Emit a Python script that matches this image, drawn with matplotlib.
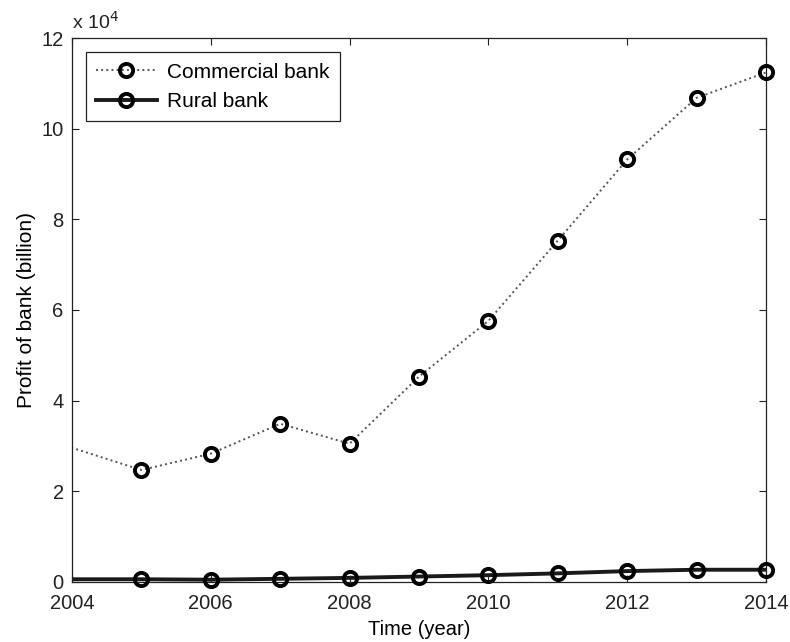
import matplotlib.pyplot as plt
from matplotlib.lines import Line2D
from matplotlib.ticker import FuncFormatter

plt.rcParams['font.family'] = ['Liberation Sans', 'DejaVu Sans']

# 2003 point lies left of the visible range; only the line enters the axes
years = [2003, 2005, 2006, 2007, 2008, 2009, 2010, 2011, 2012, 2013, 2014]
commercial = [34500, 24700, 28300, 34900, 30500, 45300, 57600, 75300, 93200, 106800, 112400]
rural = [600, 600, 500, 700, 900, 1200, 1500, 1900, 2400, 2700, 2700]

fig = plt.figure(figsize=(7.9, 6.42), dpi=100)
ax = fig.add_axes([0.0911, 0.0935, 0.8785, 0.8473])

mk = dict(marker='o', markersize=9.5, markerfacecolor='none',
          markeredgecolor='black', markeredgewidth=2.8)

# lines (clipped)
ax.plot(years, commercial, linestyle=':', color='#555555', linewidth=1.4)
ax.plot(years, rural, linestyle='-', color='#1a1a1a', linewidth=2.8)
# markers (not clipped so the 2014 ones show fully)
ax.plot(years[1:], commercial[1:], linestyle='none', clip_on=False, zorder=3, **mk)
ax.plot(years[1:], rural[1:], linestyle='none', clip_on=False, zorder=3, **mk)

ax.set_xlim(2004, 2014)
ax.set_ylim(0, 120000)
ax.set_xticks([2004, 2006, 2008, 2010, 2012, 2014])
ax.set_yticks(range(0, 120001, 20000))
ax.yaxis.set_major_formatter(FuncFormatter(lambda v, p: f"{v / 1e4:g}"))
ax.tick_params(direction='in', top=True, right=True, labelsize=14.5,
               length=5, width=0.8, colors='#222222')
ax.tick_params(axis='x', pad=9)
ax.tick_params(axis='y', pad=6)
for s in ax.spines.values():
    s.set_linewidth(0.9)
    s.set_color('#222222')

ax.text(0, 1.01, r'x 10$^4$', transform=ax.transAxes, fontsize=14,
        ha='left', va='bottom', color='#222222')

ax.set_xlabel('Time (year)', fontsize=14.5, labelpad=5)
ax.set_ylabel('Profit of bank (billion)', fontsize=15, labelpad=4)

handles = [
    Line2D([], [], linestyle=':', color='#555555', linewidth=1.4, **mk),
    Line2D([], [], linestyle='-', color='#1a1a1a', linewidth=2.8, **mk),
]
leg = ax.legend(handles, ['Commercial bank', 'Rural bank'], loc='upper left',
                fontsize=15, frameon=True, fancybox=False, framealpha=1,
                edgecolor='#222222', handlelength=2.9, handletextpad=0.5,
                borderpad=0.5, labelspacing=0.5, borderaxespad=0,
                bbox_to_anchor=(0.02, 0.974))
leg.get_frame().set_linewidth(0.9)

fig.savefig('out.png', dpi=100)
